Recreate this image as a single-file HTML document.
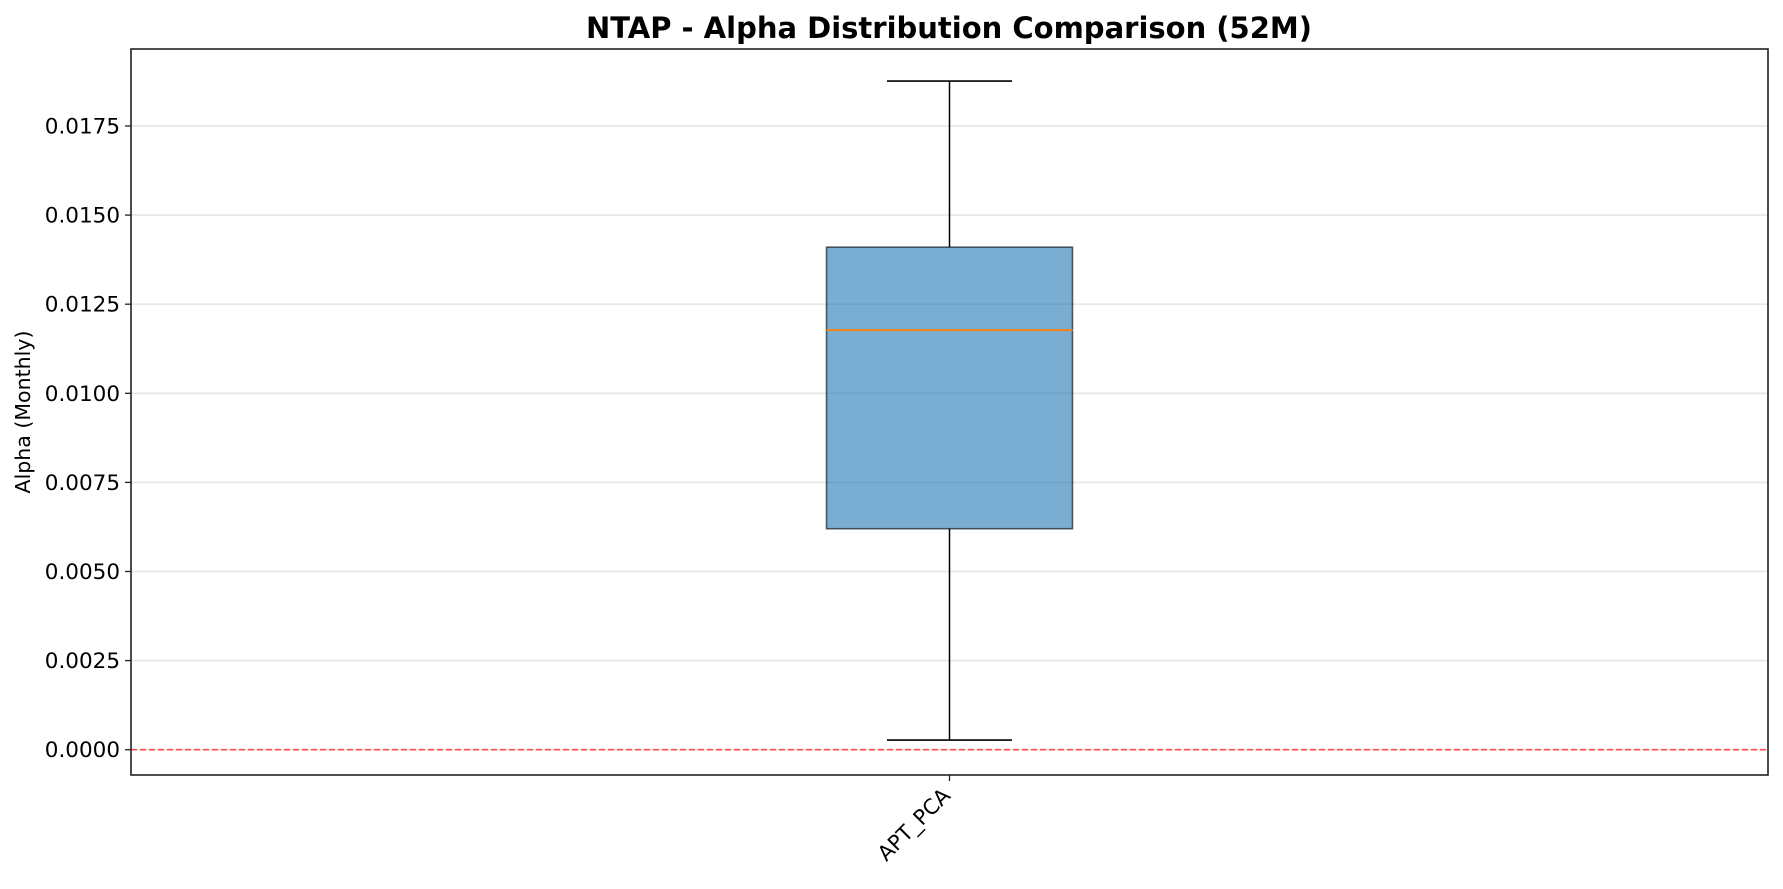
<!DOCTYPE html>
<html><head><meta charset="utf-8"><style>
body{margin:0;background:#fff;}
svg text{font-family:"DejaVu Sans","Liberation Sans",sans-serif;}
</style></head><body>
<svg id="chart" width="1783" height="884" viewBox="0 0 1783 884" xmlns="http://www.w3.org/2000/svg">
<rect width="1783" height="884" fill="#fff"/>
<text x="949" y="38" text-anchor="middle" font-size="29" font-weight="bold">NTAP - Alpha Distribution Comparison (52M)</text>
<g id="grid"></g>
<g id="marks"></g>
<g id="axes"></g>
<text transform="translate(30,412) rotate(-90)" text-anchor="middle" font-size="20.5">Alpha (Monthly)</text>
</svg>
<script>
const categories = ["APT_PCA"];
const whiskerLow = [0.00027];
const q1Values = [0.0062];
const medianValues = [0.01177];
const q3Values = [0.0141];
const whiskerHigh = [0.01876];
const yTicks = [0, 0.0025, 0.005, 0.0075, 0.01, 0.0125, 0.015, 0.0175];
const yTickLabels = ["0.0000","0.0025","0.0050","0.0075","0.0100","0.0125","0.0150","0.0175"];

const L=131, R=1768, T=49, B=775;
const yMin=-0.00071, yMax=0.01966;
const y = v => B - (v - yMin)/(yMax - yMin)*(B - T);
const x = i => L + (i + 0.5)/categories.length*(R - L);
const NS="http://www.w3.org/2000/svg";
function mk(tag, attrs, parent){const e=document.createElementNS(NS,tag);for(const k in attrs)e.setAttribute(k,attrs[k]);parent.appendChild(e);return e;}
const grid=document.getElementById('grid'), marks=document.getElementById('marks'), axes=document.getElementById('axes');

yTicks.forEach((t,i)=>{
  const g=mk('line',{x1:L,x2:R,y1:y(t),y2:y(t),stroke:'#e6e6e6','stroke-width':1.6},grid);
  
  
  const tk=mk('line',{x1:L-6,x2:L,y1:y(t),y2:y(t),stroke:'#222','stroke-width':1.3},axes);
  
  
  const lb=mk('text',{x:L-11,y:y(t)+7.5,'text-anchor':'end','font-size':21.5},axes);
  lb.textContent=yTickLabels[i];
  
  
});

const zl=mk('line',{x1:L,x2:R,y1:y(0),y2:y(0),stroke:'#ff4d4d','stroke-width':1.6,'stroke-dasharray':'6,3'},marks);



categories.forEach((c,i)=>{
  const cx=x(i), bw=246, cw=125;
  const w1=mk('line',{x1:cx,x2:cx,y1:y(whiskerLow[i]),y2:y(q1Values[i]),stroke:'#000','stroke-width':1.5},marks);
  
  
  const w2=mk('line',{x1:cx,x2:cx,y1:y(q3Values[i]),y2:y(whiskerHigh[i]),stroke:'#000','stroke-width':1.5},marks);
  
  
  const c1=mk('line',{x1:cx-cw/2,x2:cx+cw/2,y1:y(whiskerLow[i]),y2:y(whiskerLow[i]),stroke:'#000','stroke-width':1.6},marks);
  
  
  const c2=mk('line',{x1:cx-cw/2,x2:cx+cw/2,y1:y(whiskerHigh[i]),y2:y(whiskerHigh[i]),stroke:'#000','stroke-width':1.6},marks);
  
  
  const bx=mk('rect',{x:cx-bw/2,y:y(q3Values[i]),width:bw,height:y(q1Values[i])-y(q3Values[i]),fill:'rgba(31,119,180,0.6)',stroke:'rgba(0,0,0,0.6)','stroke-width':1.6},marks);
  
  
  const md=mk('line',{x1:cx-bw/2,x2:cx+bw/2,y1:y(medianValues[i]),y2:y(medianValues[i]),stroke:'#ff7f0e','stroke-width':1.8},marks);
  
  
  const xt=mk('line',{x1:cx,x2:cx,y1:B,y2:B+6,stroke:'#222','stroke-width':1.3},axes);
  
  
  const xl=mk('text',{x:0,y:0,'text-anchor':'end','font-size':21,transform:`translate(${cx+2},${B+22}) rotate(-45)`},axes);
  xl.textContent=c;
  
  
});

const fr=mk('rect',{x:L,y:T,width:R-L,height:B-T,fill:'none',stroke:'#222','stroke-width':1.6},axes);


</script>
</body></html>
